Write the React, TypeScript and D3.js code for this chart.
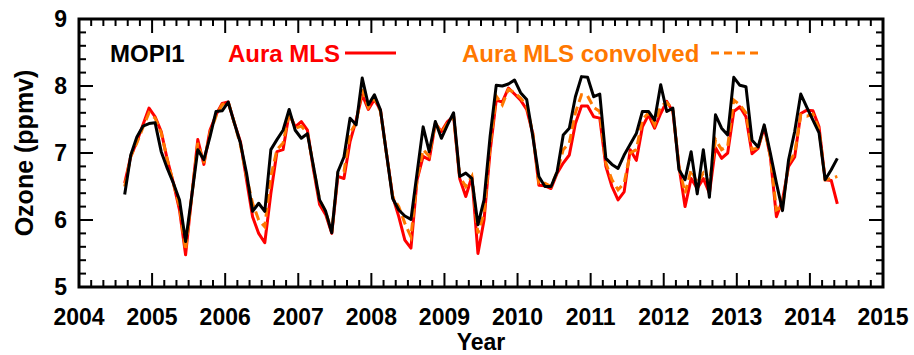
import React from 'react';
import * as d3 from 'd3';

// monthly series, first point Aug 2004
const startYear = 2004;
const startMonth = 7; // August (0-based)

const mopi1 = [
  6.38, 6.97, 7.24, 7.40, 7.44, 7.45, 7.02, 6.77, 6.55, 6.30, 5.68, 6.35, 7.05, 6.90, 7.24, 7.62, 7.63, 7.76,
  7.45, 7.15, 6.70, 6.13, 6.25, 6.13, 7.05, 7.20, 7.34, 7.65, 7.34, 7.22, 7.29, 6.80, 6.30, 6.13, 5.81, 6.72,
  6.94, 7.52, 7.42, 8.12, 7.72, 7.87, 7.64, 6.98, 6.32, 6.15, 6.06, 6.01, 6.70, 7.39, 7.02, 7.47, 7.22, 7.42,
  7.60, 6.65, 6.70, 6.62, 5.93, 6.30, 7.25, 8.01, 8.00, 8.03, 8.09, 7.90, 7.80, 7.25, 6.65, 6.50, 6.50, 6.72,
  7.27, 7.37, 7.84, 8.14, 8.13, 7.84, 7.88, 6.92, 6.83, 6.77, 6.97, 7.13, 7.29, 7.62, 7.62, 7.49, 8.02, 7.62,
  7.67, 6.75, 6.60, 7.02, 6.39, 7.05, 6.34, 7.57, 7.37, 7.27, 8.13, 8.01, 7.99, 7.19, 7.09, 7.42, 7.00, 6.55,
  6.14, 6.90, 7.32, 7.88, 7.68, 7.49, 7.30, 6.60, 6.75, 6.92,
];

const auraMls = [
  6.55, 6.95, 7.17, 7.42, 7.67, 7.54, 7.32, 6.90, 6.55, 6.15, 5.48, 6.35, 7.20, 6.83, 7.34, 7.57, 7.74, 7.76,
  7.45, 7.17, 6.60, 6.05, 5.80, 5.66, 6.40, 7.02, 7.05, 7.59, 7.39, 7.47, 7.34, 6.75, 6.23, 6.08, 5.80, 6.65,
  6.62, 7.17, 7.49, 7.87, 7.65, 7.80, 7.64, 6.98, 6.35, 6.05, 5.70, 5.58, 6.60, 6.95, 6.90, 7.44, 7.32, 7.47,
  7.55, 6.62, 6.35, 6.65, 5.50, 6.00, 7.03, 7.79, 7.76, 7.97, 7.88, 7.79, 7.65, 7.29, 6.52, 6.51, 6.47, 6.70,
  6.85, 6.97, 7.44, 7.70, 7.70, 7.54, 7.52, 6.80, 6.50, 6.30, 6.42, 7.05, 6.89, 7.39, 7.57, 7.37, 7.59, 7.77,
  7.62, 6.80, 6.20, 6.62, 6.47, 6.62, 6.40, 7.08, 6.92, 7.00, 7.62, 7.69, 7.54, 6.99, 7.07, 7.39, 6.95, 6.05,
  6.30, 6.80, 6.94, 7.59, 7.64, 7.63, 7.39, 6.60, 6.59, 6.24,
];

const auraConv = [
  6.50, 6.95, 7.15, 7.38, 7.60, 7.52, 7.30, 6.90, 6.55, 6.20, 5.55, 6.35, 7.15, 6.85, 7.30, 7.55, 7.72, 7.76,
  7.45, 7.12, 6.65, 6.25, 6.00, 5.90, 6.65, 7.05, 7.15, 7.60, 7.37, 7.40, 7.30, 6.78, 6.30, 6.12, 5.82, 6.70,
  6.72, 7.30, 7.45, 7.95, 7.68, 7.82, 7.62, 6.98, 6.35, 6.20, 5.95, 5.75, 6.60, 7.05, 6.95, 7.45, 7.30, 7.45,
  7.55, 6.65, 6.50, 6.65, 5.80, 6.10, 7.10, 7.85, 7.72, 7.95, 7.90, 7.82, 7.70, 7.30, 6.55, 6.55, 6.50, 6.72,
  7.05, 7.15, 7.60, 7.87, 7.85, 7.68, 7.62, 6.85, 6.60, 6.45, 6.55, 7.00, 7.05, 7.50, 7.60, 7.42, 7.70, 7.75,
  7.65, 6.80, 6.40, 6.75, 6.55, 6.70, 6.55, 7.20, 7.05, 7.10, 7.79, 7.72, 7.60, 7.05, 7.08, 7.40, 6.95, 6.15,
  6.20, 6.85, 7.00, 7.57, 7.55, 7.58, 7.35, 6.60, 6.62, 6.65,
];

const yearTicks = [2004, 2005, 2006, 2007, 2008, 2009, 2010, 2011, 2012, 2013, 2014, 2015];
const ozoneTicks = [5, 6, 7, 8, 9];

const W = 914, H = 355;
const margin = { left: 79, right: 31, top: 19, bottom: 68 };
const font = '"Liberation Sans", Arial, sans-serif';
const RED = '#ff0000';
const ORANGE = '#ff7800';

export default function App() {
  const x = d3.scaleLinear().domain([2004, 2015]).range([margin.left, W - margin.right]);
  const y = d3.scaleLinear().domain([5, 9]).range([H - margin.bottom, margin.top]);

  const t = (i: number) => startYear + (startMonth + i + 0.5) / 12;
  const line = d3.line<number>().x((_, i) => x(t(i))).y(d => y(d));

  const x0 = x(2004), x1 = x(2015), y0 = y(5), y1 = y(9);

  // minor ticks: every 2 months on x, every 0.2 on y
  const xMinor = d3.range(2004, 2015.001, 1 / 6).filter(v => Math.abs(v - Math.round(v)) > 0.01);
  const yMinor = d3.range(5, 9.001, 0.2).filter(v => Math.abs(v - Math.round(v)) > 0.01);

  return (
    <svg width={W} height={H} style={{ position: 'absolute', left: 0, top: 0, background: '#fff' }}
      fontFamily={font} fontWeight="bold">
      {/* ticks, inward on all sides */}
      <g stroke="#000" strokeWidth={2}>
        {yearTicks.map(v => (
          <g key={'xt' + v}>
            <line x1={x(v)} x2={x(v)} y1={y0} y2={y0 - 14} />
            <line x1={x(v)} x2={x(v)} y1={y1} y2={y1 + 14} />
          </g>
        ))}
        {xMinor.map(v => (
          <g key={'xm' + v}>
            <line x1={x(v)} x2={x(v)} y1={y0} y2={y0 - 7} />
            <line x1={x(v)} x2={x(v)} y1={y1} y2={y1 + 7} />
          </g>
        ))}
        {ozoneTicks.map(v => (
          <g key={'yt' + v}>
            <line x1={x0} x2={x0 + 14} y1={y(v)} y2={y(v)} />
            <line x1={x1} x2={x1 - 14} y1={y(v)} y2={y(v)} />
          </g>
        ))}
        {yMinor.map(v => (
          <g key={'ym' + v}>
            <line x1={x0} x2={x0 + 7} y1={y(v)} y2={y(v)} />
            <line x1={x1} x2={x1 - 7} y1={y(v)} y2={y(v)} />
          </g>
        ))}
      </g>
      <rect x={x0} y={y1} width={x1 - x0} height={y0 - y1} fill="none" stroke="#000" strokeWidth={3} />

      {/* tick labels */}
      {yearTicks.map(v => (
        <text key={'xl' + v} x={x(v)} y={y0 + 38} textAnchor="middle" fontSize={23}>{v}</text>
      ))}
      {ozoneTicks.map(v => (
        <text key={'yl' + v} x={x0 - 12} y={y(v) + 8} textAnchor="end" fontSize={23}>{v}</text>
      ))}
      <text x={(x0 + x1) / 2} y={350} textAnchor="middle" fontSize={23}>Year</text>
      <text transform={`translate(33,${(y0 + y1) / 2}) rotate(-90)`} textAnchor="middle" fontSize={25}>Ozone (ppmv)</text>

      {/* series */}
      <path d={line(auraMls) || ''} fill="none" stroke={RED} strokeWidth={3} strokeLinejoin="round" />
      <path d={line(auraConv) || ''} fill="none" stroke={ORANGE} strokeWidth={3} strokeDasharray="9,5" />
      <path d={line(mopi1) || ''} fill="none" stroke="#000" strokeWidth={3} strokeLinejoin="round" />

      {/* legend */}
      <text x={110} y={62} fontSize={24} fill="#000">MOPI1</text>
      <text x={228} y={62} fontSize={24} fill={RED}>Aura MLS</text>
      <line x1={345} x2={396} y1={53} y2={53} stroke={RED} strokeWidth={3} />
      <text x={462} y={62} fontSize={24} fill={ORANGE}>Aura MLS convolved</text>
      <line x1={711} x2={758} y1={53} y2={53} stroke={ORANGE} strokeWidth={3} strokeDasharray="8,5" />
    </svg>
  );
}
